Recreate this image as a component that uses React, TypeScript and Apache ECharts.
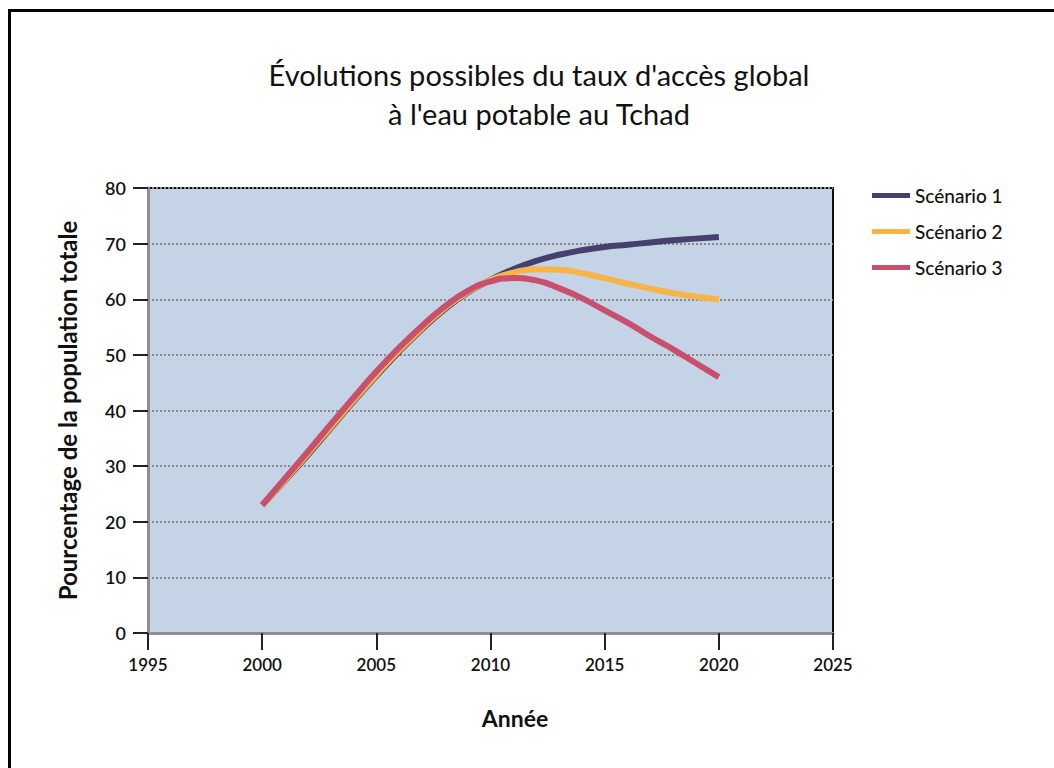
import React, { useEffect, useRef } from "react";
import * as echarts from "echarts";

const years = [2000, 2001, 2002, 2003, 2004, 2005, 2006, 2007, 2008, 2009, 2010, 2011, 2012, 2013, 2014, 2015, 2016, 2017, 2018, 2019, 2020];
const scenario1 = [23, 27.4, 32.0, 36.8, 41.6, 46.2, 50.6, 54.6, 58.2, 61.2, 63.5, 65.4, 66.9, 68.0, 68.8, 69.4, 69.8, 70.2, 70.6, 70.9, 71.2];
const scenario2 = [23, 27.5, 32.2, 37.0, 41.8, 46.4, 50.8, 54.8, 58.4, 61.3, 63.5, 64.8, 65.4, 65.3, 64.7, 63.8, 62.8, 61.9, 61.1, 60.5, 60.0];
const scenario3 = [23, 27.8, 32.6, 37.5, 42.3, 47.0, 51.3, 55.2, 58.7, 61.5, 63.2, 63.8, 63.4, 62.0, 60.2, 58.0, 55.8, 53.3, 51.0, 48.5, 46.0];
const seriesNames = ["Scénario 1", "Scénario 2", "Scénario 3"];
const seriesColors = ["#46406e", "#f8b445", "#c8506c"];
const titleLines = ["Évolutions possibles du taux d'accès global", "à l'eau potable au Tchad"];
const xAxisName = "Année";
const yAxisName = "Pourcentage de la population totale";

const FONT = "Lato, 'DejaVu Sans', sans-serif";

export default function App() {
  const ref = useRef<HTMLDivElement>(null);
  useEffect(() => {
    if (!ref.current) return;
    const chart = echarts.init(ref.current, null, { renderer: "svg" });
    const allSeries = [scenario1, scenario2, scenario3];
    chart.setOption({
      animation: false,
      backgroundColor: "#ffffff",
      title: {
        text: titleLines.join("\n"),
        left: 534,
        top: 50,
        textAlign: "center",
        textStyle: { fontFamily: FONT, fontSize: 29, fontWeight: "normal", color: "#111", lineHeight: 39 },
      },
      legend: {
        orient: "vertical",
        left: 867,
        top: 181,
        icon: "rect",
        itemWidth: 38,
        itemHeight: 5,
        itemGap: 17,
        textStyle: { fontFamily: FONT, fontSize: 19, color: "#111", fontWeight: 500 },
        data: seriesNames,
      },
      grid: {
        left: 148,
        top: 188,
        width: 685,
        height: 445,
        show: true,
        backgroundColor: "#c4d3e5",
        borderColor: "#111",
        borderWidth: 2,
      },
      xAxis: {
        type: "value",
        min: 1995,
        max: 2025,
        interval: 5,
        axisLine: { show: true, onZero: false, lineStyle: { color: "#8f8f8f", width: 3 } },
        axisTick: { show: true, length: 17, lineStyle: { color: "#222", width: 2 } },
        axisLabel: { margin: 23, fontFamily: FONT, fontSize: 17, fontWeight: 600, color: "#111", formatter: (v: number) => String(v) },
        splitLine: { show: false },
      },
      yAxis: {
        type: "value",
        min: 0,
        max: 80,
        interval: 10,
        name: yAxisName,
        nameLocation: "middle",
        nameGap: 69,
        nameTextStyle: { fontFamily: FONT, fontSize: 24, fontWeight: "bold", color: "#111" },
        axisLine: { show: true, lineStyle: { color: "#8f8f8f", width: 3 } },
        axisTick: { show: true, length: 15, lineStyle: { color: "#222", width: 2 } },
        axisLabel: { margin: 22, fontFamily: FONT, fontSize: 18, fontWeight: 600, color: "#111" },
        splitLine: { show: true, lineStyle: { color: "#8c8888", width: 2, type: [2, 2] } },
      },
      graphic: [
        {
          type: "rect",
          shape: { x: 9.5, y: 10.5, width: 1100, height: 800 },
          style: { fill: "none", stroke: "#000", lineWidth: 3 },
          silent: true,
        },
        {
          type: "text",
          x: 515,
          y: 718,
          style: {
            text: xAxisName,
            fontFamily: FONT,
            fontSize: 23,
            fontWeight: "bold",
            fill: "#111",
            align: "center",
            verticalAlign: "middle",
          },
        },
      ],
      series: seriesNames.map((name, i) => ({
        name,
        type: "line",
        smooth: true,
        symbol: "none",
        lineStyle: { color: seriesColors[i], width: 6 },
        itemStyle: { color: seriesColors[i] },
        data: years.map((y, j) => [y, allSeries[i][j]]),
      })),
    });
    return () => chart.dispose();
  }, []);
  return <div ref={ref} style={{ position: "fixed", left: 0, top: 0, width: 1054, height: 768 }} />;
}
